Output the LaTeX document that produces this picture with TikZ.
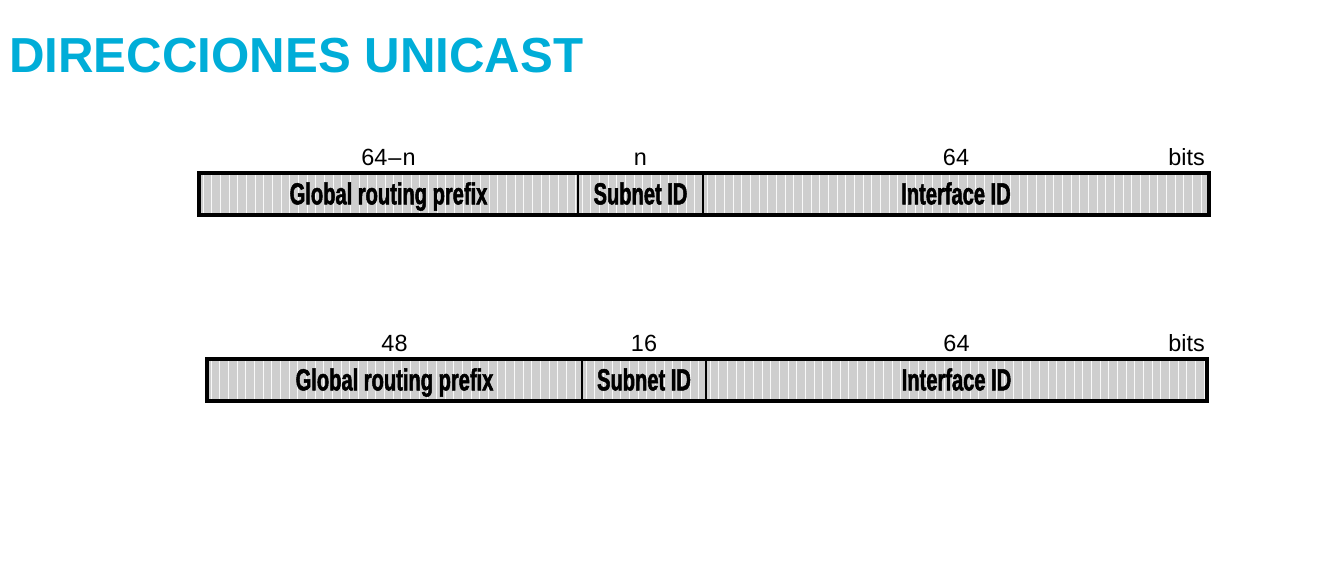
\documentclass[tikz,border=0pt]{standalone}
\usepackage{fontspec}
\usetikzlibrary{positioning}
\setmainfont{Liberation Sans}
\newfontfamily\condfont[FakeStretch=0.66,FakeBold=1.6]{Liberation Sans Bold}
\newfontfamily\numfont{Liberation Sans}
\definecolor{titlecyan}{RGB}{0,173,216}
\definecolor{fieldgray}{RGB}{206,206,206}

\begin{document}
\begin{tikzpicture}[x=0.03cm, y=-0.03cm,
    field/.style={draw, line width=1.2pt, fill=fieldgray, inner sep=0pt, outer sep=0pt,
      minimum height=1.26cm, text height=0.66cm, text depth=0.04cm,
      font=\condfont\fontsize{26}{26}\selectfont,
      path picture={
        \foreach \k in {0,...,60}
          \draw[white!85!fieldgray, line width=0.8pt]
            ([xshift=\k*0.26cm+0.12cm]path picture bounding box.south west) --
            ([xshift=\k*0.26cm+0.12cm]path picture bounding box.north west);
      }},
    num/.style={inner sep=0pt, font=\numfont\fontsize{20}{20}\selectfont},
    frame/.style={line width=2.6pt}]
    \useasboundingbox (0,0) rectangle (1329,569);
    % title
    \node[anchor=base west, inner sep=0pt, text=titlecyan,
      font=\bfseries\fontsize{42}{42}\selectfont] (title) at (9,73) {DIRECCIONES UNICAST};
    % first address: 64-n / n / 64
    \node[field, minimum width=379*0.03cm] (g1) at (388.5,194) {Global routing prefix};
    \node[field, minimum width=125*0.03cm, right=0pt of g1] (s1) {Subnet ID};
    \node[field, minimum width=506*0.03cm, right=0pt of s1] (i1) {Interface ID};
    \draw[frame] (g1.north west) rectangle (i1.south east);
    \node[num, above=0.21cm of g1] (n1g) {64\hspace{1pt}–\hspace{1pt}n};
    \node[num, above=0.21cm of s1] (n1s) {n};
    \node[num, above=0.21cm of i1] (n1i) {64};
    \node[num, anchor=south east] (b1) at ([xshift=-0.12cm, yshift=0.21cm]i1.north east) {bits};
    % second address: 48 / 16 / 64
    \node[field, minimum width=375*0.03cm] (g2) at (394.5,380) {Global routing prefix};
    \node[field, minimum width=124*0.03cm, right=0pt of g2] (s2) {Subnet ID};
    \node[field, minimum width=501*0.03cm, right=0pt of s2] (i2) {Interface ID};
    \draw[frame] (g2.north west) rectangle (i2.south east);
    \node[num, above=0.21cm of g2] (n2g) {48};
    \node[num, above=0.21cm of s2] (n2s) {16};
    \node[num, above=0.21cm of i2] (n2i) {64};
    \node[num, anchor=south east] (b2) at ([xshift=-0.06cm, yshift=0.21cm]i2.north east) {bits};
\end{tikzpicture}
\end{document}
